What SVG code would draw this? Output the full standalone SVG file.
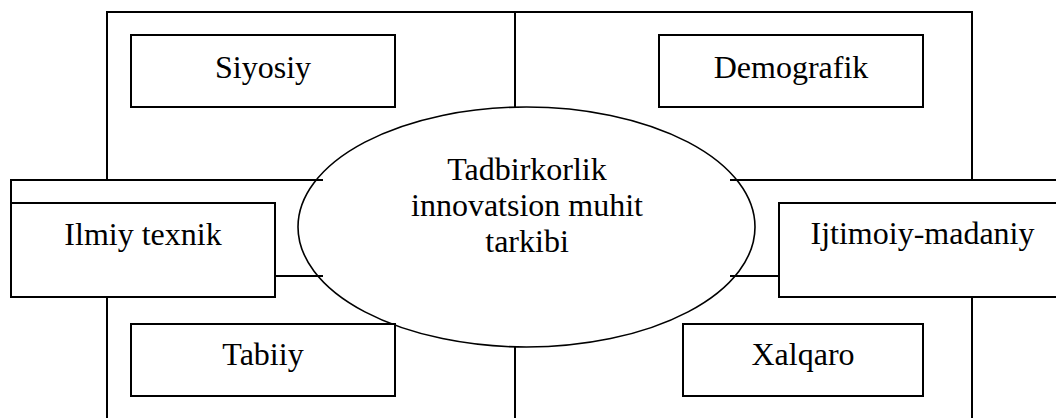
<svg xmlns="http://www.w3.org/2000/svg" width="1056" height="418" viewBox="0 0 1056 418">
<style>
.ln{fill:none;stroke:#000;stroke-width:2}
.bx{fill:#fff;stroke:#000;stroke-width:2}
.el{fill:none;stroke:#000;stroke-width:1.6}
text{font-family:'Liberation Serif','Times New Roman','DejaVu Serif',serif;font-size:32px;fill:#000;text-anchor:middle}
</style>
<rect width="1056" height="418" fill="#fff"/>
<g id="connectors">
<path class="ln" d="M107,180 V12 H972 V180"/>
<path class="ln" d="M107,297 V420 M972,297 V420"/>
<path class="ln" d="M515,12 V107 M515,347 V420"/>
<path class="ln" d="M11,203 V180 H323 M730,180 H1060"/>
<path class="ln" d="M275,276 H323 M730,276 H779"/>
</g>
<g id="center" font-family="Liberation Serif, serif">
<ellipse class="el" cx="526.5" cy="227" rx="228.5" ry="120"/>
<text x="527" y="180">Tadbirkorlik</text>
<text x="527" y="216">innovatsion muhit</text>
<text x="527" y="252">tarkibi</text>
</g>
<g id="siyosiy">
<rect class="bx" x="131" y="35" width="264" height="72"/>
<text x="263" y="78">Siyosiy</text>
</g>
<g id="demografik">
<rect class="bx" x="659" y="35" width="264" height="72"/>
<text x="791" y="78">Demografik</text>
</g>
<g id="ilmiy">
<rect class="bx" x="11" y="203" width="264" height="94"/>
<text x="143" y="245">Ilmiy texnik</text>
</g>
<g id="ijtimoiy">
<rect class="bx" x="779" y="203" width="287" height="94"/>
<text x="922.5" y="244">Ijtimoiy-madaniy</text>
</g>
<g id="tabiiy">
<rect class="bx" x="131" y="324" width="264" height="72"/>
<text x="263" y="365">Tabiiy</text>
</g>
<g id="xalqaro">
<rect class="bx" x="683" y="324" width="240" height="72"/>
<text x="803" y="365">Xalqaro</text>
</g>
</svg>
